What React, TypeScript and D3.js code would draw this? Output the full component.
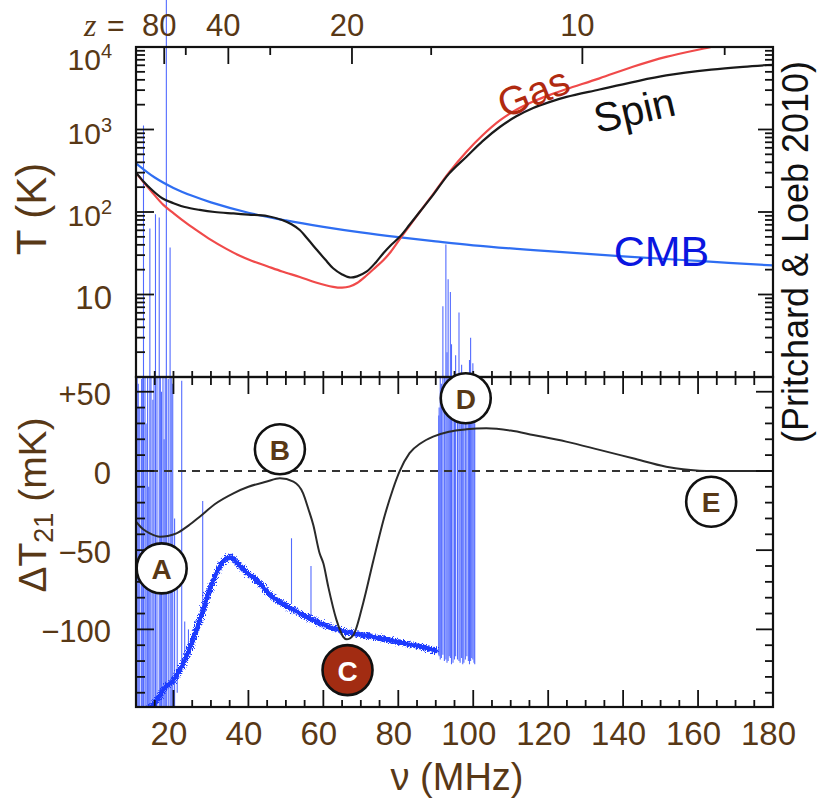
import React from "react";
import * as d3 from "d3";

// ---- Top panel: temperatures in K ----
const cmbNu = [10, 15, 20, 25, 30, 40, 50, 60, 70, 80, 90, 100, 120, 140, 160, 180];
const cmbT = [390, 262, 196, 157, 131, 98, 79, 66, 56.5, 49.5, 44, 39.5, 33.5, 29, 25.5, 22.5];

const gasNu = [10, 12, 14, 17.3, 20, 23, 26.2, 30, 34, 37.7, 41, 45, 49, 53.7, 58, 62.6, 65, 67, 69, 71.5, 74, 76, 78, 80.4, 83, 85.7, 89.3, 93.5, 98.2, 102.5, 107.1, 111.5, 116, 120.5, 124.9, 133.7, 142.6, 151.5, 163.5, 172];
const gasT = [300, 230, 180, 122, 97, 76, 60, 46, 36, 29.5, 25.5, 22, 19, 16.3, 14, 12.4, 12.1, 12.5, 13.8, 17, 21.5, 26, 33, 47, 68, 100, 165, 300, 538, 851, 1288, 1738, 2188, 2630, 3090, 4169, 5754, 7586, 10000, 12020];

const spinNu = [10, 12, 14, 17, 20, 23, 27, 31, 36, 40, 45, 49, 51.5, 53.7, 56, 58.3, 60.5, 62.6, 65, 67, 69, 71.5, 74, 76, 78, 80.4, 83, 85.7, 89.3, 93.5, 98.2, 102.5, 107.1, 111.5, 116, 120.5, 124.9, 133.7, 142.6, 151.5, 163.5, 172, 180];
const spinT = [300, 235, 190, 147, 128, 115, 106, 100, 96, 93, 89.5, 80, 71, 60.5, 46, 34.6, 26.5, 20.8, 17.5, 16.1, 16.6, 18.9, 24.5, 31.6, 39.5, 50, 70, 100, 161, 290, 468, 724, 1072, 1445, 1820, 2163, 2483, 3055, 3758, 4519, 5309, 5754, 6095];

// ---- Bottom panel: 21-cm brightness temperature in mK ----
const dtNu = [10, 12, 13.7, 16.4, 18.5, 20.8, 24, 27, 31, 36, 40, 44.9, 48.4, 52, 54.6, 56, 57.3, 59, 60, 61.3, 63.5, 65.3, 66.2, 68, 70.6, 73.3, 76.4, 78.5, 80.4, 83, 86, 89.3, 93.5, 98.2, 103.5, 110, 116, 124.8, 133.7, 142.6, 151.5, 156, 160.4, 164, 170, 180];
const dtVal = [-32, -37, -39.4, -41.5, -41, -39.4, -34.5, -28.9, -21, -14.1, -10, -6.7, -4.6, -6.7, -14.1, -24, -34, -52, -58.3, -73, -94, -104.7, -106.3, -103.6, -83.6, -57, -28, -12, 0, 11.2, 17.5, 21.7, 24.8, 26.3, 26.9, 25.5, 22.7, 18.5, 13.3, 8, 2.7, 1, 0.2, 0, 0, 0];

// Measured spectrum (mK)
const obsNu = [13.5, 15.5, 17.3, 20, 23.5, 27, 29.7, 32.4, 34.2, 35.3, 36.9, 39, 42.2, 45.7, 50, 55.5, 60, 64.4, 68, 73.3, 78, 82.2, 86, 89.3, 90.5];
const obsVal = [-150, -145, -138, -132, -117, -94, -75, -60, -55, -54.5, -58, -63, -69, -78, -85, -92, -97, -100.5, -102.5, -104.7, -107, -109, -111, -113, -114];

// Interference spikes in the measured spectrum (mK)
const spikeNu = [
  10.3, 10.6, 11.0, 11.5, 11.8, 12.0, 12.4, 12.7, 13.1, 13.4, 13.7, 14.0, 14.5, 14.8, 15.2, 15.6, 16.2, 16.5, 16.8, 17.2,
  17.5, 17.8, 18.1, 18.6, 19.1, 19.4, 19.8, 20.3, 21.0, 22.2, 23.0, 24.0, 27.8, 51.5, 56.7,
  90.8, 90.9, 91.2, 91.5, 91.9, 92.3, 92.7, 93.0, 93.3, 93.6, 93.9, 94.2, 94.6, 95.0, 95.3, 95.8, 96.2, 96.5, 96.9, 97.2,
  97.5, 97.9, 98.3, 98.7, 99.0, 99.3, 99.6, 99.9, 100.2, 100.4,
];
const spikeLo = [
  -149, -149, -149, -149, -149, -149, -149, -149, -149, -149, -149, -149, -149, -149, -149, -149, -149, -149, -149, -149,
  -149, -149, -149, -149, -149, -149, -149, -149, -140, -122, -118, -112, -89, -84, -91,
  -116, -117, -119, -118, -116, -120, -119, -121, -120, -117, -118, -122, -121, -119, -117, -119, -120, -121, -118, -122,
  -121, -119, -117, -120, -122, -120, -118, -119, -121, -122,
];
const spikeHi = [
  59, 55, 40, 58, 59, 218, 59, 30, 59, -10, 153, 59, 45, 59, 162, 59, 160, 59, 50, 59,
  20, 59, 300, 58, 141, 59, 55, -30, -60, 57, -95, -100, -19, -42.5, -60,
  35, 40, 59, 55, 104, 59, 143, 75, 121, 59, 113, 80, 60, 59, 73, 50, 100, 45, 67, 59,
  40, 59, 55, 59, 70, 84, 45, 68, 40, 30,
];

// Axis ticks and labels
const redshiftMajor = [80, 40, 20, 10];
const redshiftMinor = [60, 30, 15, 7.5];
const freqLabels = [20, 40, 60, 80, 100, 120, 140, 160, 180];
const tempTicks = [10, 100, 1000, 10000];
const tempExp = ["", "2", "3", "4"];
const dtTicks = [50, 0, -50, -100];
const dtLabels = ["+50", "0", "\u221250", "\u2212100"];

// Milestone markers on the 21-cm curve
const markerIds = ["A", "B", "C", "D", "E"];
const markerNu = [16.85, 48.4, 66.45, 98, 163.5];
const markerDt = [-61.5, 13.7, -125.7, 45.9, -19.4];

const W = 821;
const H = 802;
const L = 136;
const R = 773;
const T1 = 47;
const B1 = 377;
const B2 = 707;

const BROWN = "#583816";
const FONT = "'Liberation Sans', Arial, Helvetica, sans-serif";

export default function App() {
  const x = d3.scaleLinear().domain([10, 180]).range([L, R]);
  const yT = d3.scaleLog().domain([1, 1e4]).range([B1, T1]);
  const yD = d3.scaleLinear().domain([-149, 59.3]).range([B2, B1]);
  const zToNu = (z: number) => 1420.4 / (1 + z);

  const lineT = (nu: number[], t: number[]) =>
    d3.line<number>().x((_, i) => x(nu[i])).y((_, i) => yT(t[i])).curve(d3.curveCatmullRom.alpha(0.5))(nu) || "";
  const lineD = (nu: number[], v: number[]) =>
    d3.line<number>().x((_, i) => x(nu[i])).y((_, i) => yD(v[i])).curve(d3.curveMonotoneX)(nu) || "";

  const freqTicks = d3.range(15, 180, 5);
  const tempMinor: number[] = [];
  for (let k = 0; k < 4; k++) for (let m = 2; m <= 9; m++) tempMinor.push(m * Math.pow(10, k));
  const dtMinor = d3.range(-140, 60, 10);

  const frame = { stroke: "#111", strokeWidth: 2.2, fill: "none" };
  const tick = { stroke: "#111", strokeWidth: 1.8 };

  return (
    <svg width={W} height={H} style={{ position: "absolute", left: 0, top: 0, background: "#fff" }} fontFamily={FONT}>
      <defs>
        <clipPath id="topClip">
          <rect x={L} y={T1} width={R - L} height={B1 - T1} />
        </clipPath>
        <clipPath id="botClip">
          <rect x={L} y={B1} width={R - L} height={B2 - B1} />
        </clipPath>
        <filter id="jitter" filterUnits="userSpaceOnUse" x={0} y={0} width={W} height={H}>
          <feTurbulence type="fractalNoise" baseFrequency="0.9" numOctaves={2} seed={4} result="noise" />
          <feDisplacementMap in="SourceGraphic" in2="noise" scale={8} xChannelSelector="R" yChannelSelector="G" />
        </filter>
      </defs>

      {/* interference spikes (drawn first, under the curves) */}
      <g stroke="#2846ff" strokeWidth={1.1} opacity={0.8}>
        {spikeNu.map((nu, i) => (
          <line key={i} x1={x(nu)} x2={x(nu)} y1={Math.min(yD(spikeLo[i]), B2)} y2={yD(spikeHi[i])} />
        ))}
      </g>

      {/* top panel curves */}
      <g clipPath="url(#topClip)" fill="none" strokeWidth={2.2}>
        <path d={lineT(cmbNu, cmbT)} stroke="#2f6ef2" />
        <path d={lineT(gasNu, gasT)} stroke="#f04a4a" />
        <path d={lineT(spinNu, spinT)} stroke="#1a1a1a" />
      </g>

      {/* bottom panel */}
      <g clipPath="url(#botClip)">
        <line x1={L} x2={R} y1={yD(0)} y2={yD(0)} stroke="#333" strokeWidth={2} strokeDasharray="8,6" />
        <path d={lineD(obsNu, obsVal)} fill="none" stroke="#1d3bff" strokeWidth={5.5} filter="url(#jitter)" />
        <path d={lineD(obsNu, obsVal)} fill="none" stroke="#1d3bff" strokeWidth={3.5} />
        <path d={lineD(dtNu, dtVal)} fill="none" stroke="#2a2a2a" strokeWidth={2} />
      </g>

      {/* frames */}
      <rect x={L} y={T1} width={R - L} height={B1 - T1} {...frame} />
      <rect x={L} y={B1} width={R - L} height={B2 - B1} {...frame} />

      {/* top axis: redshift */}
      {redshiftMajor.map((z) => (
        <line key={"zM" + z} x1={x(zToNu(z))} x2={x(zToNu(z))} y1={T1} y2={T1 + 17} {...tick} />
      ))}
      {redshiftMinor.map((z) => (
        <line key={"zm" + z} x1={x(zToNu(z))} x2={x(zToNu(z))} y1={T1} y2={T1 + 8} {...tick} />
      ))}
      {redshiftMajor.map((z) => (
        <text key={"zl" + z} x={x(zToNu(z)) - 5} y={36} textAnchor="middle" fontSize={31} fill={BROWN}>
          {z}
        </text>
      ))}
      <text x={84} y={36} fontSize={32} fill={BROWN} fontStyle="italic" fontFamily="'Liberation Serif', 'DejaVu Serif', serif">
        z
      </text>
      <text x={107} y={36} fontSize={30} fill={BROWN}>=</text>

      {/* top panel bottom edge ticks */}
      {freqTicks.map((f) => (
        <line key={"tb" + f} x1={x(f)} x2={x(f)} y1={B1} y2={B1 - 6} {...tick} />
      ))}

      {/* top panel left/right log ticks */}
      {tempTicks.map((t) => (
        <g key={"tM" + t}>
          <line x1={L} x2={L + 18} y1={yT(t)} y2={yT(t)} {...tick} />
          <line x1={R} x2={R - 15} y1={yT(t)} y2={yT(t)} {...tick} />
        </g>
      ))}
      {tempMinor.map((t) => (
        <g key={"tm" + t}>
          <line x1={L} x2={L + 9} y1={yT(t)} y2={yT(t)} {...tick} />
          <line x1={R} x2={R - 8} y1={yT(t)} y2={yT(t)} {...tick} />
        </g>
      ))}
      {tempTicks.map((t, i) => (
        <text key={"tl" + t} x={112} y={t === 10000 ? 70 : yT(t) + 14} textAnchor="end" fontSize={tempExp[i] ? 30 : 33} fill={BROWN}>
          10
          {tempExp[i] ? (
            <tspan fontSize={20} dy={-12}>
              {tempExp[i]}
            </tspan>
          ) : null}
        </text>
      ))}

      {/* bottom panel ticks */}
      {freqTicks.map((f) => {
        const major = f % 20 === 0;
        return (
          <g key={"bt" + f}>
            <line x1={x(f)} x2={x(f)} y1={B1} y2={B1 + (major ? 17 : 8)} {...tick} />
            <line x1={x(f)} x2={x(f)} y1={B2} y2={B2 - (major ? 17 : 7)} {...tick} />
          </g>
        );
      })}
      {dtMinor.map((v) => {
        const major = v % 50 === 0;
        return (
          <g key={"dm" + v}>
            <line x1={L} x2={L + (major ? 18 : 9)} y1={yD(v)} y2={yD(v)} {...tick} />
            <line x1={R} x2={R - (major ? 17 : 8)} y1={yD(v)} y2={yD(v)} {...tick} />
          </g>
        );
      })}
      {dtTicks.map((v, i) => (
        <text key={"dl" + v} x={111} y={yD(v) + 13} textAnchor="end" fontSize={31} fill={BROWN}>
          {dtLabels[i]}
        </text>
      ))}
      {freqLabels.map((f) => (
        <text key={"fl" + f} x={x(f) - 4.5} y={745} textAnchor="middle" fontSize={33} fill={BROWN}>
          {f}
        </text>
      ))}

      {/* axis titles */}
      <text x={457} y={790} textAnchor="middle" fontSize={38} fill={BROWN}>
        {"\u03bd (MHz)"}
      </text>
      <text transform="translate(46,209) rotate(-90)" textAnchor="middle" fontSize={42} fill={BROWN}>
        T (K)
      </text>
      <text transform="translate(46,505) rotate(-90)" textAnchor="middle" fontSize={39} fill={BROWN}>
        {"\u0394T"}
        <tspan fontSize={27} dy={7}>21</tspan>
        <tspan dy={-7}>{" (mK)"}</tspan>
      </text>
      <text transform="translate(808,252) rotate(-90)" textAnchor="middle" fontSize={36} fill="#111">
        (Pritchard &amp; Loeb 2010)
      </text>

      {/* curve labels */}
      <text transform={`translate(${x(116)},${yT(2850)}) rotate(-22)`} textAnchor="middle" dominantBaseline="central" fontSize={40} fill="#b02a10">
        Gas
      </text>
      <text transform={`translate(${x(143)},${yT(1700)}) rotate(-13)`} textAnchor="middle" dominantBaseline="central" fontSize={41} fill="#111">
        Spin
      </text>
      <text x={x(137.5)} y={yT(22)} fontSize={43} fill="#0a16e0">
        CMB
      </text>

      {/* milestone markers */}
      {markerIds.map((id, i) => {
        const filled = id === "C";
        return (
          <g key={id} transform={`translate(${x(markerNu[i])},${yD(markerDt[i])})`}>
            <circle r={25} fill={filled ? "#a22c12" : "#fff"} stroke="#111" strokeWidth={2.6} />
            <text y={1} textAnchor="middle" dominantBaseline="central" fontSize={28} fontWeight="bold" fill={filled ? "#fff" : BROWN}>
              {id}
            </text>
          </g>
        );
      })}
    </svg>
  );
}
